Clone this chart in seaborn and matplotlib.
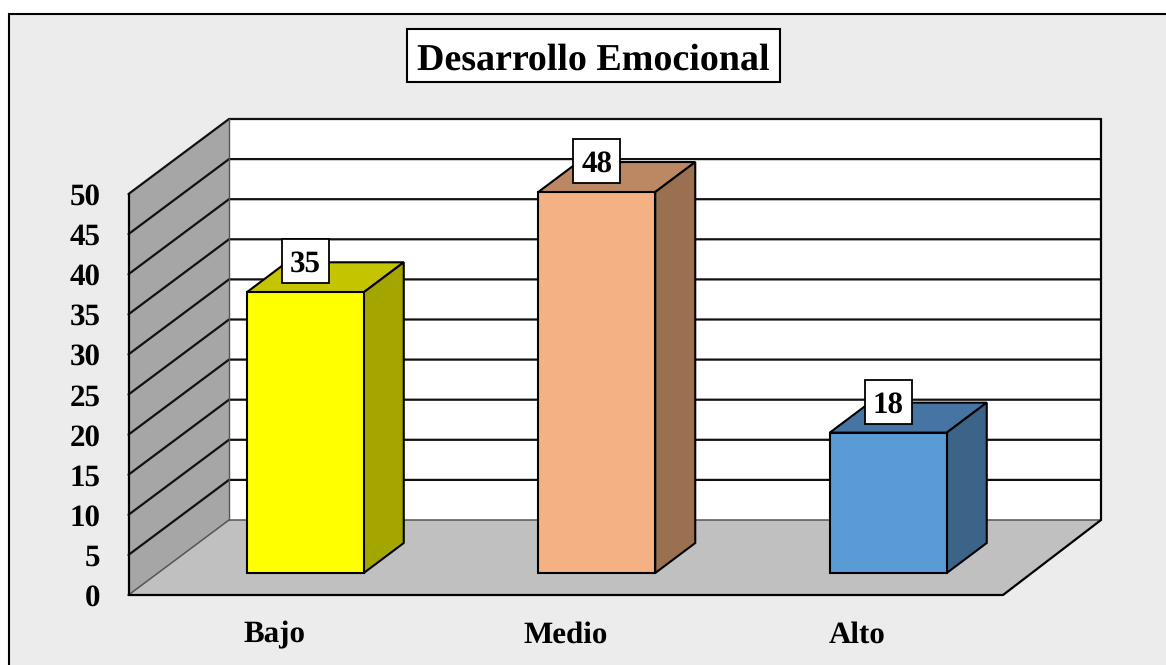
import matplotlib
matplotlib.use('Agg')
import matplotlib.pyplot as plt
from matplotlib.patches import Polygon, Rectangle
import seaborn as sns

# data
categories = ['Bajo', 'Medio', 'Alto']
values = [35, 47.5, 17.5]
y_ticks = [0, 5, 10, 15, 20, 25, 30, 35, 40, 45, 50]
title = 'Desarrollo Emocional'

# bar colours: front, top, side
front_colors = ['#FFFF00', '#F4B183', '#5B9BD5']
top_colors = ['#C4C400', '#BC8864', '#4675A3']
side_colors = ['#A5A500', '#9A7050', '#3B6488']

W, H = 1166, 665
PX_X = 874.5 / 3   # pixels per category
PX_Y = 401 / 50    # pixels per unit

# depth of the fake 3d box, in data units
wall_dx = 100.5 / PX_X
wall_dx_right = 98 / PX_X
wall_dy = 75 / PX_Y
bar_shift_x = 31 / PX_X
bar_shift_y = 22 / PX_Y
bar_dx = 40 / PX_X
bar_dy = 30 / PX_Y
bar_width = 117 / PX_X

sns.set_theme(style='white')
plt.rcParams['font.family'] = ['Liberation Serif', 'DejaVu Serif']
plt.rcParams['font.weight'] = 'bold'
plt.rcParams['text.hinting'] = 'no_hinting'
plt.rcParams['text.hinting_factor'] = 1

fig = plt.figure(figsize=(W / 100, H / 100), dpi=100, facecolor='white')
fig.add_artist(Rectangle((9 / W, -0.01), 1.1, (H - 14) / H + 0.01, transform=fig.transFigure,
                         facecolor='#ECECEC', edgecolor='black', linewidth=1.5, zorder=-1))

ax = fig.add_axes([128.5 / W, (H - 595) / H, 874.5 / W, 401 / H])
ax.patch.set_alpha(0)

sns.barplot(x=categories, y=values, hue=categories, palette=front_colors, legend=False,
            width=bar_width, edgecolor='black', linewidth=1.5, saturation=1, ax=ax)

ax.set_xlim(-0.5, 2.5)
ax.set_ylim(0, 50)
left, right = -0.5, 2.5
top = y_ticks[-1]

# walls and floor
ax.add_patch(Polygon([(left, 0), (left + wall_dx, wall_dy), (left + wall_dx, top + wall_dy), (left, top)],
                     facecolor='#A6A6A6', edgecolor='none', zorder=1, clip_on=False))
ax.add_patch(Polygon([(left + wall_dx, wall_dy), (right + wall_dx_right, wall_dy),
                      (right + wall_dx_right, top + wall_dy), (left + wall_dx, top + wall_dy)],
                     facecolor='white', edgecolor='none', zorder=1, clip_on=False))
ax.add_patch(Polygon([(left, 0), (right, 0), (right + wall_dx_right, wall_dy), (left + wall_dx, wall_dy)],
                     facecolor='#C0C0C0', edgecolor='none', zorder=1, clip_on=False))

# grid lines round the side wall and back wall
for t in y_ticks[1:]:
    ax.plot([left, left + wall_dx, right + wall_dx_right], [t, t + wall_dy, t + wall_dy],
            color='#111111', lw=1.6, zorder=2, clip_on=False, solid_joinstyle='miter')

# thin grey inner edges
ax.plot([left + wall_dx, left + wall_dx], [wall_dy, top + wall_dy], color='#555555', lw=1, zorder=2, clip_on=False)
ax.plot([left, left + wall_dx, right + wall_dx_right], [0, wall_dy, wall_dy], color='#555555', lw=1.1, zorder=2, clip_on=False)

# black outer edges
ax.plot([left, left], [0, top], color='black', lw=1.6, zorder=2, clip_on=False)
ax.plot([left, right, right + wall_dx_right, right + wall_dx_right], [0, 0, wall_dy, top + wall_dy],
        color='black', lw=1.6, zorder=2, clip_on=False, solid_joinstyle='miter')

# move the bars into the box and add the top and side faces
for i, bar in enumerate(ax.patches[:3]):
    x0 = bar.get_x() + bar_shift_x
    h = bar.get_height()
    bar.set_x(x0)
    bar.set_y(bar_shift_y)
    bar.set_zorder(4)
    bar.set_clip_on(False)
    x1 = x0 + bar.get_width()
    y0 = bar_shift_y
    y1 = y0 + h
    ax.add_patch(Polygon([(x0, y1), (x1, y1), (x1 + bar_dx, y1 + bar_dy), (x0 + bar_dx, y1 + bar_dy)],
                         facecolor=top_colors[i], edgecolor='black', linewidth=1.5, zorder=3, clip_on=False))
    ax.add_patch(Polygon([(x1, y0), (x1 + bar_dx, y0 + bar_dy), (x1 + bar_dx, y1 + bar_dy), (x1, y1)],
                         facecolor=side_colors[i], edgecolor='black', linewidth=1.5, zorder=3, clip_on=False))
    # value label: white box, centred above the bar
    cx = (x0 + x1) / 2
    cy = y1 + 31 / PX_Y
    box_w = 47 / PX_X
    box_h = 44 / PX_Y
    ax.add_patch(Rectangle((cx - box_w / 2, cy - box_h / 2), box_w, box_h, facecolor='white',
                           edgecolor='black', linewidth=1.3, zorder=5, clip_on=False))
    ax.text(cx, cy, f'{values[i]:.0f}', ha='center', va='center_baseline', fontsize=22.3, fontweight='bold',
            color='black', zorder=6, clip_on=False)

sns.despine(ax=ax, left=True, bottom=True)
ax.set_xticks(range(len(categories)))
ax.set_xticklabels(categories, fontsize=22.3, fontweight='bold', color='black')
ax.set_yticks(y_ticks)
ax.set_yticklabels([str(t) for t in y_ticks], fontsize=22.3, fontweight='bold', color='black')
ax.tick_params(axis='x', length=0, pad=19)
ax.tick_params(axis='y', length=0, pad=20)
ax.set_xlabel('')
ax.set_ylabel('')

fig.add_artist(Rectangle((407 / W, (H - 82) / H), 373 / W, 53 / H, transform=fig.transFigure,
                         facecolor='white', edgecolor='black', linewidth=1.5, zorder=2))
fig.text(593.5 / W, (H - 56) / H, title, ha='center', va='center_baseline', fontsize=27.4, fontweight='bold',
         color='black', zorder=3)

fig.savefig('out.png', dpi=100, facecolor='white')
